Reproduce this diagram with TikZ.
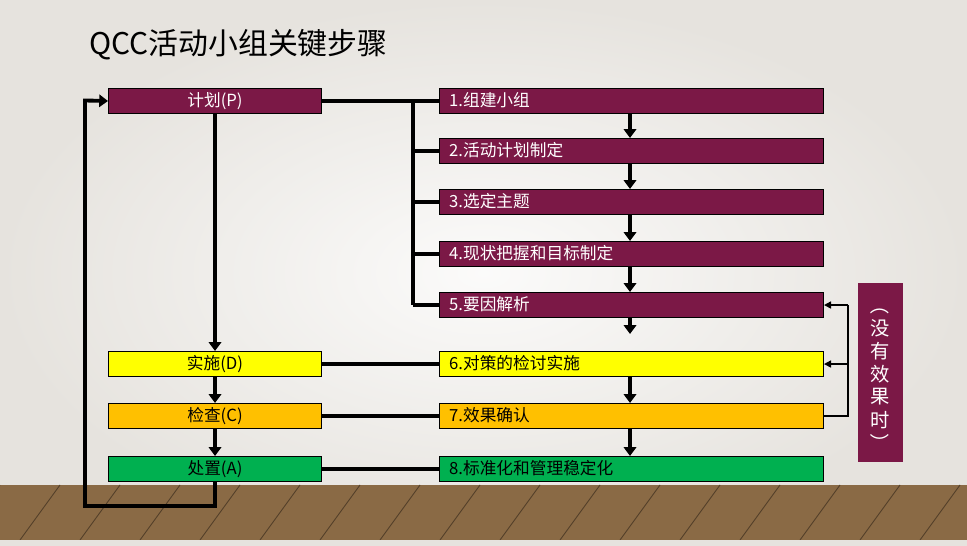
\documentclass[tikz,border=0pt]{standalone}
\usepackage{fontspec}
\setmainfont{Noto Sans CJK SC}
\usetikzlibrary{arrows.meta}
\definecolor{maroon}{HTML}{7B1846}
\definecolor{yel}{HTML}{FFFF00}
\definecolor{org}{HTML}{FFC000}
\definecolor{grn}{HTML}{00B050}
\definecolor{wood}{HTML}{8A6A45}
\definecolor{bg}{HTML}{E6E3DE}
\tikzset{
 lbox/.style={draw=black,line width=0.6pt,minimum width=4.26cm,minimum height=0.5cm,anchor=north west,inner sep=0pt,font=\fontsize{9.5}{10}\selectfont},
 rbox/.style={draw=black,line width=0.6pt,minimum width=7.68cm,minimum height=0.5cm,anchor=north west,inner sep=0pt},
 rtext/.style={anchor=west,font=\fontsize{9.5}{10}\selectfont},
 vch/.style={text=white,font=\fontsize{11}{13}\selectfont,inner sep=0pt},
 thick line/.style={line width=2.2pt},
 arr/.style={line width=2.2pt,-{Triangle[length=5pt,width=7pt]}},
 thin arr/.style={line width=0.8pt,-{Triangle[length=4pt,width=4pt]}}
}
\begin{document}
\begin{tikzpicture}[x=0.02cm,y=-0.02cm]
\useasboundingbox (0,0) rectangle (967,546);
\shade[inner color=white!85!bg,outer color=bg] (0,0) rectangle (967,546);
\fill[wood] (0,485) rectangle (967,540);
\foreach \x in {0,60,...,1000} \draw[wood!60!black,line width=0.5pt] (\x,485) -- (\x-40,540);
\fill[bg] (0,540) rectangle (967,546);
\node[anchor=west,font=\fontsize{17}{19}\selectfont] (title) at (83,45) {QCC活动小组关键步骤};
% left boxes
\node[lbox,fill=maroon,text=white] (P) at (108,88) {计划(P)};
\node[lbox,fill=yel] (D) at (108,351) {实施(D)};
\node[lbox,fill=org] (C) at (108,403) {检查(C)};
\node[lbox,fill=grn] (A) at (108,456) {处置(A)};
% right boxes
\foreach \n/\y/\c/\t/\tc in {1/88/maroon/1.组建小组/white,2/138/maroon/2.活动计划制定/white,3/189/maroon/3.选定主题/white,4/241/maroon/4.现状把握和目标制定/white,5/292/maroon/5.要因解析/white,6/351/yel/6.对策的检讨实施/black,7/403/org/7.效果确认/black,8/456/grn/8.标准化和管理稳定化/black}{
 \node[rbox,fill=\c] (r\n) at (439,\y) {};
 \node[rtext,text=\tc] (t\n) at (443,\y+12.5) {\t};
}
% label
\node[fill=maroon,minimum width=0.9cm,minimum height=3.58cm,anchor=north west,inner sep=0pt] (lab) at (858,283) {};
\foreach \i/\ch in {0/\rotatebox{-90}{（},1/没,2/有,3/效,4/果,5/时,6/\rotatebox{-90}{）}}
 \node[vch] (v\i) at (880,305+\i*23) {\ch};
% connectors
\coordinate (b) at (413,100.5);
\coordinate (m) at (630,0);
\coordinate (f) at (848,0);
\draw[thick line] (P.east) -- (r1.west);
\draw[thick line] (b) -- (b|-r5.west);
\foreach \n in {2,3,4,5} \draw[thick line] (b|-r\n.west) -- (r\n.west);
\foreach \a/\b in {1/2,2/3,3/4,4/5,6/7,7/8} \draw[arr] (m|-r\a.south) -- (m|-r\b.north);
\coordinate (e5) at (630,334);
\draw[arr] (m|-r5.south) -- (e5);
\draw[arr] (P.south) -- (D.north);
\draw[arr] (D.south) -- (C.north);
\draw[arr] (C.south) -- (A.north);
\foreach \n/\m in {D/6,C/7,A/8} \draw[thick line] (\n.east) -- (r\m.west);
\draw[thick line,-{Triangle[length=5pt,width=7pt]}] (A.south) -- (215,506) -- (85,506) -- (85,100.5) -- (P.west);
\draw[line width=0.8pt] (r7.east) -- (f|-r7.east) -- (f|-r5.east);
\draw[thin arr] (f|-r5.east) -- (r5.east);
\draw[thin arr] (f|-r6.east) -- (r6.east);
\end{tikzpicture}
\end{document}
